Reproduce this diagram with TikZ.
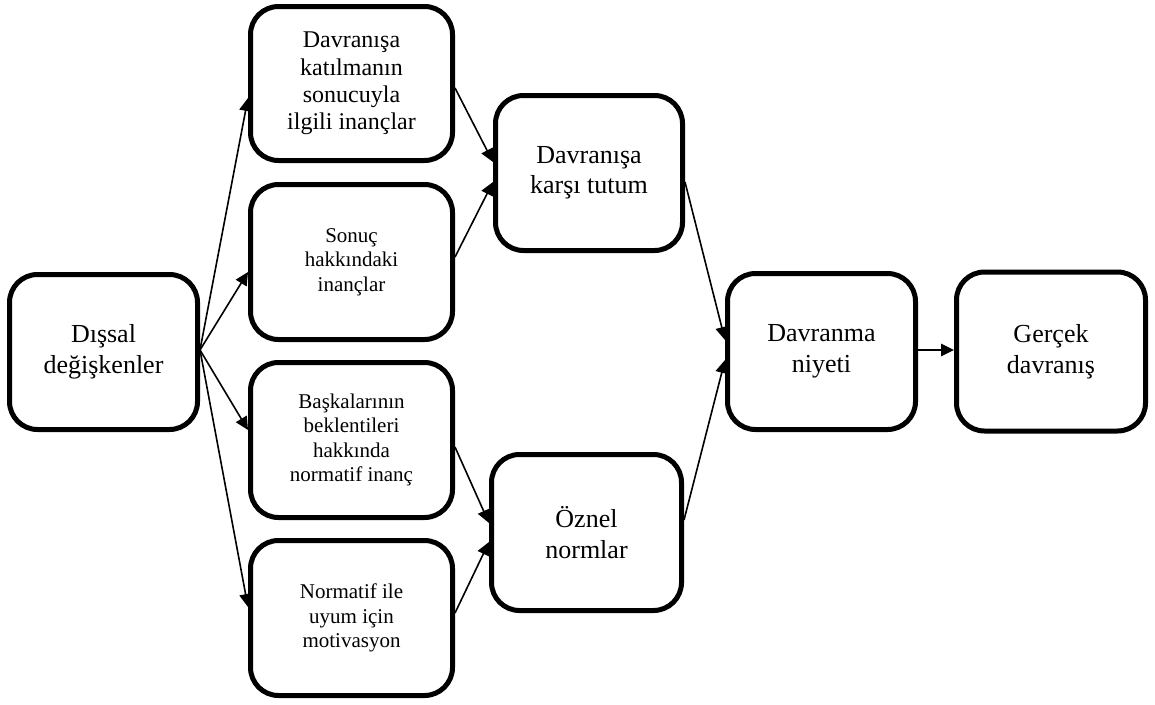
\documentclass[tikz,border=0pt]{standalone}
\usepackage{fontspec}
\setmainfont{Liberation Serif}
\usetikzlibrary{arrows.meta,calc}
\tikzset{
  box/.style={draw=black, line width=5pt, rounded corners=28pt, fill=white,
    align=center, inner sep=0pt},
  bigtxt/.style={font=\fontsize{26}{30.5}\selectfont},
  medtxt/.style={font=\fontsize{24}{27.3}\selectfont},
  smtxt/.style={font=\fontsize{21}{24.5}\selectfont},
  conn/.style={line width=1.6pt, -{Triangle[length=13pt,width=12.5pt]}},
}
\begin{document}
\begin{tikzpicture}[x=1pt,y=-1pt]
\useasboundingbox (0,0) rectangle (1155,704);
\node[box,bigtxt,minimum width=188pt,minimum height=155pt] (d) at (103.5,352) {Dışsal\\değişkenler};
\node[box,medtxt,minimum width=202pt,minimum height=154pt] (b1) at (351.5,83.5) {Davranışa\\katılmanın\\sonucuyla\\ilgili inançlar};
\node[box,smtxt,minimum width=202pt,minimum height=155pt] (b2) at (351.5,262) {Sonuç\\hakkındaki\\inançlar};
\node[box,smtxt,minimum width=202pt,minimum height=155pt] (b3) at (351.5,440) {Başkalarının\\beklentileri\\hakkında\\normatif inanç};
\node[box,smtxt,minimum width=202pt,minimum height=155pt] (b4) at (351.5,618) {Normatif ile\\uyum için\\motivasyon};
\node[box,bigtxt,minimum width=187pt,minimum height=155pt] (t) at (589,173) {Davranışa\\karşı tutum};
\node[box,bigtxt,minimum width=190pt,minimum height=156pt] (o) at (586.5,532.5) {Öznel\\normlar};
\node[box,bigtxt,minimum width=188pt,minimum height=156pt] (n) at (821.5,351.5) {Davranma\\niyeti};
\node[box,bigtxt,minimum width=189pt,minimum height=159pt] (g) at (1051,351.5) {Gerçek\\davranış};

\coordinate (ds) at ($(d.east)+(0,-2)$);
\draw[conn] (ds) -- ($(b1.west)+(0,14.5)$);
\draw[conn] (ds) -- ($(b2.west)+(0,10)$);
\draw[conn] (ds) -- ($(b3.west)+(0,-10)$);
\draw[conn] (ds) -- ($(b4.west)+(0,-11)$);
\draw[conn] ($(b1.east)+(0,4.5)$) -- ($(t.west)+(0,-11)$);
\draw[conn] ($(b2.east)+(0,-5)$) -- ($(t.west)+(0,9)$);
\draw[conn] ($(b3.east)+(0,7)$) -- ($(o.west)+(0,-9.5)$);
\draw[conn] ($(b4.east)+(0,-5)$) -- ($(o.west)+(0,9.5)$);
\draw[conn] ($(t.east)+(0,9)$) -- ($(n.west)+(0,-11.5)$);
\draw[conn] ($(o.east)+(0,-12.5)$) -- ($(n.west)+(0,8.5)$);
\draw[conn] ($(n.east)+(0,-1.5)$) -- ($(g.west)+(0,-1.5)$);
\end{tikzpicture}
\end{document}
